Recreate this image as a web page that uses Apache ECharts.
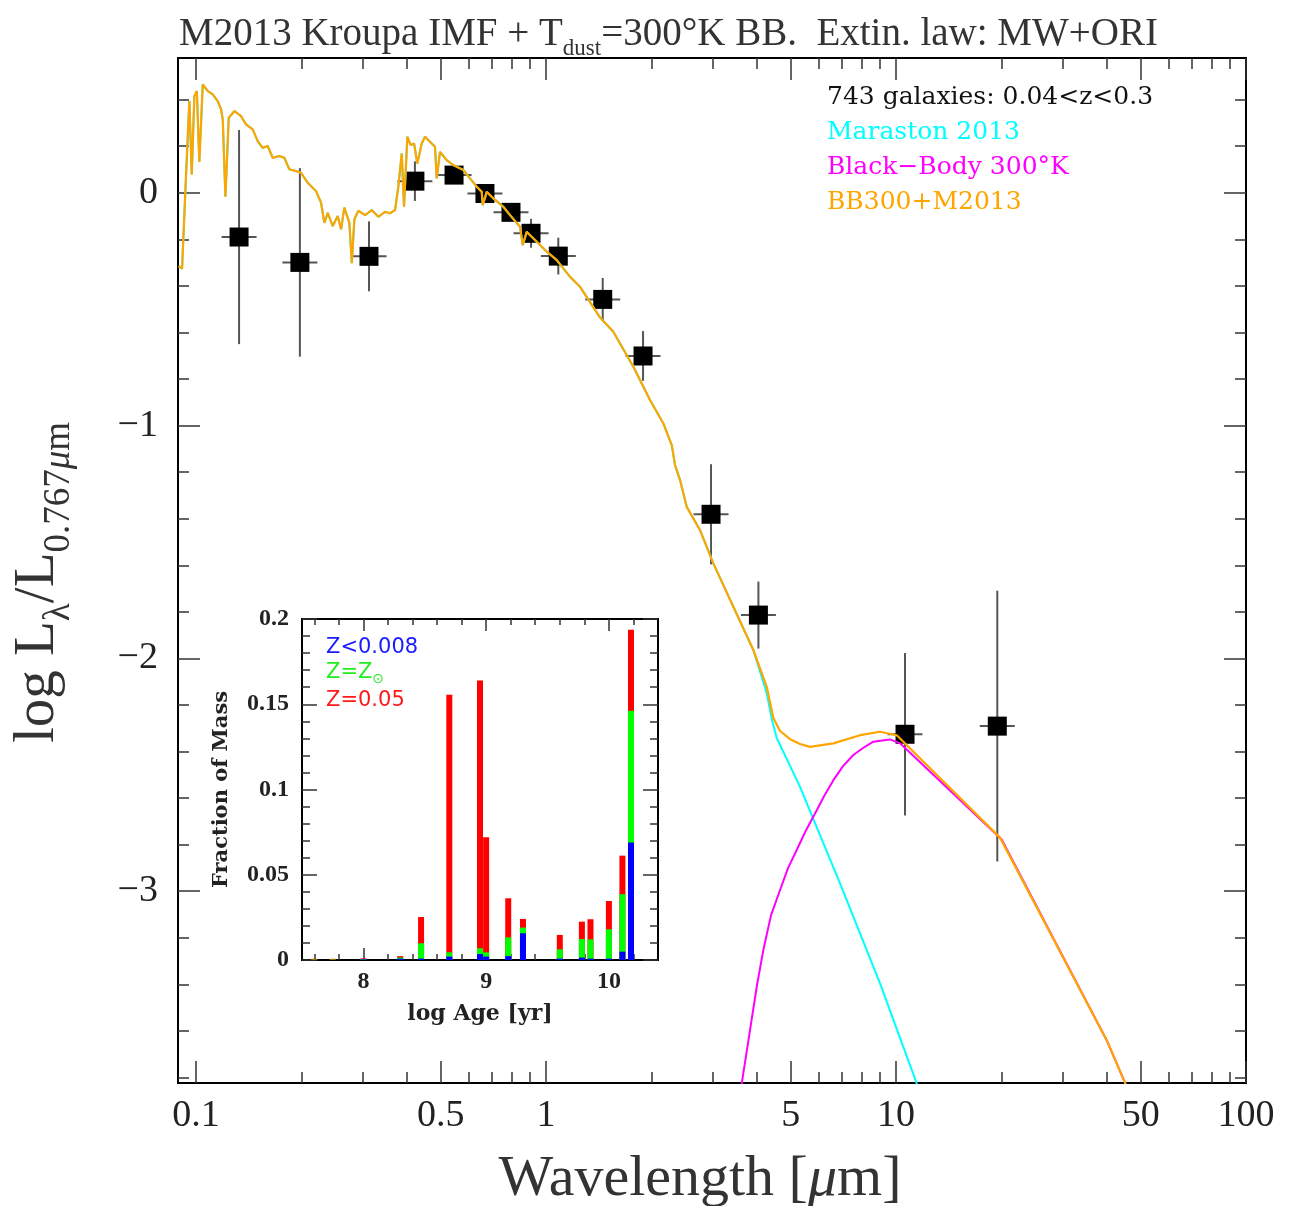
<!DOCTYPE html>
<html>
<head>
<meta charset="utf-8">
<title>SED M2013 + BB300</title>
<script src="https://cdn.jsdelivr.net/npm/echarts@6.0.0/dist/echarts.min.js"></script>
<style>html,body{margin:0;padding:0;background:#fff;}</style>
</head>
<body>
<div id="main" style="width:1306px;height:1206px;"></div>
<script type="text/javascript">
// photometric points (rest wavelength in micron, log L / L_0.767)
var obsLam  = [0.1327, 0.198, 0.312, 0.422, 0.546, 0.669, 0.794, 0.906, 1.084, 1.452, 1.893, 2.961, 4.044, 10.61, 19.47];
var obsLogL = [-0.190, -0.299, -0.273, 0.050, 0.076, -0.003, -0.084, -0.174, -0.272, -0.458, -0.701, -1.381, -1.814, -2.326, -2.291];
var obsErr  = [0.46, 0.405, 0.15, 0.085, 0.035, 0.035, 0.035, 0.062, 0.079, 0.092, 0.107, 0.215, 0.144, 0.349, 0.582];
var xErrDex = 0.05;   // half width of the wavelength bars, in dex

// BB300+M2013 model spectrum
var specLam = [0.0892,0.0912,0.0936,0.0957,0.0972,0.0989,0.1005,0.1022,0.1045,0.1080,
  0.1116,0.1153,0.1179,0.1192,0.1213,0.1240,0.1287,0.1345,0.1389,0.1452,
  0.1500,0.1550,0.1602,0.1656,0.1730,0.1788,0.1847,0.1931,0.1995,0.2085,
  0.2203,0.2276,0.2326,0.2378,0.2458,0.2540,0.2596,0.2653,0.2742,0.2786,
  0.2834,0.2909,0.3040,0.3177,0.3318,0.3467,0.3583,0.3703,0.3784,0.3870,
  0.3929,0.4015,0.4106,0.4196,0.4288,0.4414,0.4510,0.4714,0.4817,0.4871,
  0.4978,0.5203,0.5433,0.5802,0.6064,0.6339,0.6551,0.6594,0.6770,0.7070,
  0.7551,0.7891,0.8427,0.8578,0.8807,0.9407,1.005,1.073,1.171,1.251,
  1.427,1.557,1.776,1.982,2.164,2.287,2.337,2.415,2.523,2.754,
  3.006,3.429,3.911,4.272,4.461,4.663,4.980,5.318,5.679,6.623,7.892,9.001,
  10.05,19.82,39.99,48.18];
var specLogL = [-0.315,-0.326,0.072,0.394,0.079,0.415,0.437,0.132,0.466,0.437,
  0.423,0.394,0.358,0.315,-0.017,0.322,0.351,0.329,0.294,0.272,
  0.222,0.193,0.201,0.150,0.158,0.150,0.101,0.093,0.086,0.043,
  0.007,-0.043,-0.129,-0.086,-0.143,-0.100,-0.157,-0.064,-0.129,-0.302,
  -0.114,-0.077,-0.096,-0.074,-0.103,-0.082,-0.088,-0.074,0.026,0.169,
  -0.060,0.241,0.205,0.212,0.126,0.212,0.241,0.212,0.198,0.062,
  0.176,0.140,0.119,0.098,0.062,0.026,0.004,-0.053,0.004,-0.024,
  -0.060,-0.096,-0.146,-0.225,-0.168,-0.210,-0.253,-0.289,-0.361,-0.404,
  -0.536,-0.597,-0.747,-0.890,-0.991,-1.084,-1.170,-1.234,-1.349,-1.449,
  -1.592,-1.778,-1.964,-2.122,-2.256,-2.312,-2.347,-2.368,-2.380,-2.365,-2.330,-2.315,
  -2.330,-2.770,-3.640,-3.923];

// Maraston 2013 alone: same as the sum below ~4 micron, then this tail
var marSplitLam = 3.911;
var marTailLam  = [4.272, 4.415, 4.562, 5.318, 6.918, 9.001, 11.46, 12.10];
var marTailLogL = [-2.150, -2.260, -2.342, -2.552, -2.966, -3.396, -3.826, -3.919];

// 300K black body
var bbLam  = [3.560, 3.624, 3.827, 4.007, 4.177, 4.395, 4.663, 4.914, 5.203, 5.533, 5.869, 6.228,
  6.623, 7.056, 7.551, 8.049, 8.612, 9.120, 9.613, 10.27, 20.04, 39.99, 48.18];
var bbLogL = [-3.919, -3.826, -3.597, -3.403, -3.253, -3.103, -2.995, -2.901, -2.823, -2.738, -2.666, -2.592,
  -2.523, -2.463, -2.415, -2.385, -2.358, -2.353, -2.348, -2.365, -2.778, -3.640, -3.923];

// inset: mass fraction per age bin, split by metallicity
var ageBins   = [7.6, 7.75, 8.0, 8.3, 8.47, 8.7, 8.95, 9.0, 9.18, 9.3, 9.6, 9.78, 9.85, 10.0, 10.11, 10.18];
var fracLowZ  = [0, 0, 0.0004, 0.0008, 0.0008, 0.002, 0.0035, 0.002, 0.0023, 0.0157, 0.0008, 0.0014, 0.0008, 0.0008, 0.0049, 0.0689];
var fracSolar = [0.0003, 0.0003, 0.0002, 0.0007, 0.009, 0.0025, 0.0034, 0.0025, 0.011, 0.0033, 0.0055, 0.0109, 0.0113, 0.0172, 0.0337, 0.0773];
var fracHighZ = [0.0004, 0.0004, 0.0004, 0.0008, 0.0154, 0.151, 0.157, 0.0675, 0.0229, 0.0051, 0.0084, 0.0102, 0.0118, 0.0166, 0.0226, 0.0475];

// axis ticks
var lamMajor  = [0.1, 0.5, 1, 5, 10, 50, 100];
var lamMinor  = [0.2, 0.3, 0.4, 0.6, 0.7, 0.8, 0.9, 2, 3, 4, 6, 7, 8, 9, 20, 30, 40, 60, 70, 80, 90];
var logLMajor = [-3, -2, -1, 0];
var logLMinor = [-3.8, -3.6, -3.4, -3.2, -2.8, -2.6, -2.4, -2.2, -1.8, -1.6, -1.4, -1.2, -0.8, -0.6, -0.4, -0.2, 0.2, 0.4];
var ageMajor  = [8, 9, 10];
var ageMinor  = [7.6, 7.8, 8.2, 8.4, 8.6, 8.8, 9.2, 9.4, 9.6, 9.8, 10.2];
var fracMajor = [0, 0.05, 0.1, 0.15, 0.2];
var fracMinor = [0.01, 0.02, 0.03, 0.04, 0.06, 0.07, 0.08, 0.09, 0.11, 0.12, 0.13, 0.14, 0.16, 0.17, 0.18, 0.19];

var SERIF = "'Liberation Serif', 'Times New Roman', serif";
var DSERIF = "'DejaVu Serif', serif";
var TXT = '#222';

function pairs(xs, ys) {
    return xs.map(function (x, i) { return [x, ys[i]]; });
}

var orangeData = pairs(specLam, specLogL);
var cyanData = orangeData.filter(function (p) { return p[0] <= marSplitLam; })
    .concat(pairs(marTailLam, marTailLogL));
var xErrFac = Math.pow(10, xErrDex);

// stacked tops for the inset bars (drawn back to front)
var topLow = fracLowZ.slice();
var topSolar = fracLowZ.map(function (v, i) { return v + fracSolar[i]; });
var topAll = topSolar.map(function (v, i) { return v + fracHighZ[i]; });

function mainX(pos, ticks, len, withLabels) {
    var ax = {
        type: 'log', logBase: 10, gridIndex: 0, position: pos, min: 0.0888, max: 100,
        axisLine: { show: true, onZero: false, lineStyle: { color: '#000', width: 2 } },
        axisTick: { show: true, inside: true, length: len, customValues: ticks, lineStyle: { color: '#333', width: 1.5 } },
        axisLabel: { show: false },
        splitLine: { show: false }, minorTick: { show: false }
    };
    if (withLabels) {
        ax.axisLabel = {
            show: true, customValues: lamMajor, margin: 14, color: TXT, fontFamily: SERIF, fontSize: 38,
            formatter: function (v) { return String(+Number(v).toPrecision(3)); }
        };
        ax.name = '{a|Wavelength [}{i|\u03bc}{a|m]}';
        ax.nameLocation = 'middle';
        ax.nameGap = 68;
        ax.nameTextStyle = { padding: [0, 24, 0, 0], rich: {
            a: { fontFamily: SERIF, fontSize: 58, color: '#333' },
            i: { fontFamily: SERIF, fontSize: 58, fontStyle: 'italic', color: '#333' }
        } };
    }
    return ax;
}

function mainY(pos, ticks, len, withLabels) {
    var ax = {
        type: 'value', gridIndex: 0, position: pos, min: -3.824, max: 0.579,
        axisLine: { show: true, onZero: false, lineStyle: { color: '#000', width: 2 } },
        axisTick: { show: true, inside: true, length: len, customValues: ticks, lineStyle: { color: '#333', width: 1.5 } },
        axisLabel: { show: false },
        splitLine: { show: false }
    };
    if (withLabels) {
        ax.axisLabel = {
            show: true, customValues: logLMajor, margin: 20, color: TXT, fontFamily: SERIF, fontSize: 38,
            formatter: function (v) { return v === 0 ? '0' : '\u2212' + Math.abs(v); }
        };
        ax.name = '{m|log L}{s|\u03bb}{m|/L}{s|0.767}{si|\u03bc}{s|m}';
        ax.nameLocation = 'middle';
        ax.nameRotate = 90;
        ax.nameGap = 100;
        ax.nameTextStyle = { padding: [0, 24, 0, 0], rich: {
            m: { fontFamily: SERIF, fontSize: 57, color: '#333' },
            s: { fontFamily: SERIF, fontSize: 37, color: '#333', padding: [42, 0, 0, 0] },
            si: { fontFamily: SERIF, fontSize: 37, fontStyle: 'italic', color: '#333', padding: [42, 0, 0, 0] }
        } };
    }
    return ax;
}

function insetX(pos, ticks, len, withLabels) {
    var ax = {
        type: 'value', gridIndex: 1, position: pos, min: 7.5, max: 10.4,
        axisLine: { show: true, onZero: false, lineStyle: { color: '#000', width: 2 } },
        axisTick: { show: true, inside: true, length: len, customValues: ticks, lineStyle: { color: '#333', width: 1.5 } },
        axisLabel: { show: false },
        splitLine: { show: false }
    };
    if (withLabels) {
        ax.axisLabel = { show: true, customValues: ageMajor, margin: 10, color: TXT, fontFamily: SERIF, fontSize: 24, fontWeight: 'bold' };
        ax.name = 'log Age [yr]';
        ax.nameLocation = 'middle';
        ax.nameGap = 43;
        ax.nameTextStyle = { fontFamily: DSERIF, fontSize: 22, fontWeight: 'bold', color: TXT };
    }
    return ax;
}

function insetY(pos, ticks, len, withLabels) {
    var ax = {
        type: 'value', gridIndex: 1, position: pos, min: 0, max: 0.2,
        axisLine: { show: true, onZero: false, lineStyle: { color: '#000', width: 2 } },
        axisTick: { show: true, inside: true, length: len, customValues: ticks, lineStyle: { color: '#333', width: 1.5 } },
        axisLabel: { show: false },
        splitLine: { show: false }
    };
    if (withLabels) {
        ax.axisLabel = { show: true, customValues: fracMajor, margin: 13, color: TXT, fontFamily: SERIF, fontSize: 24, fontWeight: 'bold',
            formatter: function (v) { return String(v); } };
        ax.name = 'Fraction of Mass';
        ax.nameLocation = 'middle';
        ax.nameRotate = 90;
        ax.nameGap = 70;
        ax.nameTextStyle = { fontFamily: DSERIF, fontSize: 21, fontWeight: 'bold', color: TXT };
    }
    return ax;
}

function renderErr(params, api) {
    var l = api.value(0), v = api.value(1), e = api.value(2);
    var top = api.coord([l, v + e]);
    var bot = api.coord([l, v - e]);
    var lft = api.coord([l / xErrFac, v]);
    var rgt = api.coord([l * xErrFac, v]);
    var st = { stroke: '#555', lineWidth: 2 };
    return {
        type: 'group',
        children: [
            { type: 'line', shape: { x1: top[0], y1: top[1], x2: bot[0], y2: bot[1] }, style: st },
            { type: 'line', shape: { x1: lft[0], y1: lft[1], x2: rgt[0], y2: rgt[1] }, style: st }
        ]
    };
}

var insetNames = ['Z<0.008', 'Z=Z\u2299', 'Z=0.05'];
var insetRich = {
    b: { fontFamily: "'DejaVu Sans', sans-serif", fontSize: 21, color: '#1a1aff' },
    g: { fontFamily: "'DejaVu Sans', sans-serif", fontSize: 21, color: '#22ee22' },
    gs: { fontFamily: "'DejaVu Sans', sans-serif", fontSize: 14, color: '#22ee22', padding: [14, 0, 0, 0] },
    r: { fontFamily: "'DejaVu Sans', sans-serif", fontSize: 21, color: '#ff1a1a' }
};

var chart = echarts.init(document.getElementById('main'));

var option = {
    backgroundColor: '#fff',
    animation: false,
    title: {
        left: 174, top: 5,
        text: '{a|M2013 Kroupa IMF + T}{s|dust}{a|=300\u00b0K BB.  Extin. law: MW+ORI}',
        textStyle: { rich: {
            a: { fontFamily: SERIF, fontSize: 39, color: '#333', fontWeight: 'normal' },
            s: { fontFamily: SERIF, fontSize: 23, color: '#333', fontWeight: 'normal', padding: [27, 0, 0, 0] }
        } }
    },
    legend: [{
        orient: 'vertical', left: 817, top: 80, icon: 'none', itemWidth: 0, itemGap: 10,
        selectedMode: false,
        textStyle: { fontFamily: DSERIF, fontSize: 25 },
        data: [
            { name: '743 galaxies: 0.04<z<0.3', textStyle: { color: '#111' } },
            { name: 'Maraston 2013', textStyle: { color: '#00ffff' } },
            { name: 'Black\u2212Body 300\u00b0K', textStyle: { color: '#ff00ff' } },
            { name: 'BB300+M2013', textStyle: { color: '#ffa500' } }
        ]
    }, {
        orient: 'vertical', left: 316, top: 632, icon: 'none', itemWidth: 0, itemGap: 4,
        selectedMode: false,
        textStyle: { rich: insetRich },
        formatter: function (name) {
            if (name === insetNames[0]) return '{b|' + name + '}';
            if (name === insetNames[1]) return '{g|Z=Z}{gs|\u2299}';
            return '{r|' + name + '}';
        },
        data: insetNames
    }],
    grid: [
        { left: 178, top: 58, width: 1068, height: 1025, outerBoundsMode: 'none' },
        { left: 302, top: 619, width: 356, height: 341, outerBoundsMode: 'none', show: true, backgroundColor: '#fff', borderWidth: 0 }
    ],
    xAxis: [
        mainX('bottom', lamMajor, 22, true),
        mainX('bottom', lamMinor, 11, false),
        mainX('top', lamMajor, 22, false),
        mainX('top', lamMinor, 11, false),
        insetX('bottom', ageMajor, 12, true),
        insetX('bottom', ageMinor, 6, false),
        insetX('top', ageMajor, 12, false),
        insetX('top', ageMinor, 6, false)
    ],
    yAxis: [
        mainY('left', logLMajor, 22, true),
        mainY('left', logLMinor, 11, false),
        mainY('right', logLMajor, 22, false),
        mainY('right', logLMinor, 11, false),
        insetY('left', fracMajor, 15, true),
        insetY('left', fracMinor, 8, false),
        insetY('right', fracMajor, 15, false),
        insetY('right', fracMinor, 8, false)
    ],
    series: [
        {
            type: 'custom', name: 'errors', xAxisIndex: 0, yAxisIndex: 0, z: 2,
            renderItem: renderErr, clip: true,
            data: obsLam.map(function (l, i) { return [l, obsLogL[i], obsErr[i]]; })
        },
        {
            type: 'scatter', name: '743 galaxies: 0.04<z<0.3', xAxisIndex: 0, yAxisIndex: 0, z: 3,
            symbol: 'rect', symbolSize: 19, itemStyle: { color: '#000', opacity: 1 },
            data: pairs(obsLam, obsLogL)
        },
        {
            type: 'line', name: 'Maraston 2013', xAxisIndex: 0, yAxisIndex: 0, z: 4,
            showSymbol: false, clip: true, lineStyle: { color: '#00ffff', width: 2 }, itemStyle: { color: '#00ffff' },
            data: cyanData
        },
        {
            type: 'line', name: 'Black\u2212Body 300\u00b0K', xAxisIndex: 0, yAxisIndex: 0, z: 5,
            showSymbol: false, clip: true, lineStyle: { color: '#ff00ff', width: 2 }, itemStyle: { color: '#ff00ff' },
            data: pairs(bbLam, bbLogL)
        },
        {
            type: 'line', name: 'BB300+M2013', xAxisIndex: 0, yAxisIndex: 0, z: 6,
            showSymbol: false, clip: true, lineStyle: { color: '#ffa500', width: 2.2 }, itemStyle: { color: '#ffa500' },
            data: orangeData
        },
        {
            type: 'bar', name: insetNames[2], xAxisIndex: 4, yAxisIndex: 4, barWidth: 6, barGap: '-100%', z: 2,
            itemStyle: { color: '#ff0000' }, data: pairs(ageBins, topAll)
        },
        {
            type: 'bar', name: insetNames[1], xAxisIndex: 4, yAxisIndex: 4, barWidth: 6, barGap: '-100%', z: 3,
            itemStyle: { color: '#00ff00' }, data: pairs(ageBins, topSolar)
        },
        {
            type: 'bar', name: insetNames[0], xAxisIndex: 4, yAxisIndex: 4, barWidth: 6, barGap: '-100%', z: 4,
            itemStyle: { color: '#0000ff' }, data: pairs(ageBins, topLow)
        }
    ]
};

chart.setOption(option);
</script>
</body>
</html>
